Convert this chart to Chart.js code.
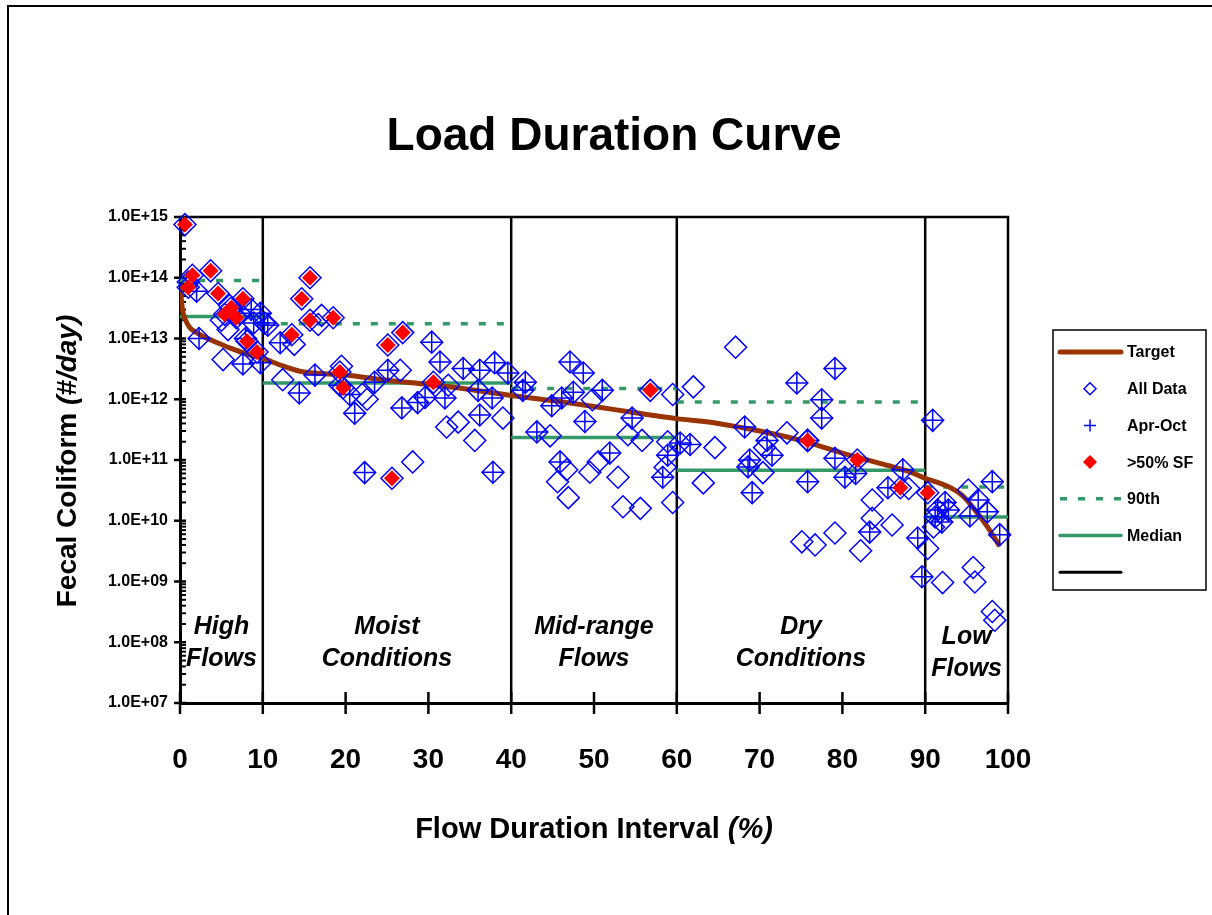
<!DOCTYPE html>
<html lang="en">
<head>
<meta charset="UTF-8">
<title>Load Duration Curve</title>
<script src="https://cdn.jsdelivr.net/npm/chart.js"></script>
<style>
  html, body {
    margin: 0;
    padding: 0;
    background: #fff;
    overflow: hidden;
  }
  .wrap {
    position: relative;
    width: 1212px;
    height: 915px;
  }
  .frame {
    position: absolute;
    left: 7px;
    top: 5px;
    right: -10px;
    bottom: -10px;
    border-left: 2px solid #000;
    border-top: 2px solid #000;
    pointer-events: none;
  }
  canvas {
    position: absolute;
    left: 0;
    top: 0;
  }
</style>
</head>
<body>
<div class="wrap">
  <canvas id="ldc" width="1212" height="915"></canvas>
  <div class="frame"></div>
</div>

<script>
// flow zones and labels
const zoneEdges = [0, 10, 40, 60, 90, 100];
const zoneNames = [['High', 'Flows'], ['Moist', 'Conditions'], ['Mid-range', 'Flows'], ['Dry', 'Conditions'], ['Low', 'Flows']];
const xTicks = [0, 10, 20, 30, 40, 50, 60, 70, 80, 90, 100];
const yDecades = [1e7, 1e8, 1e9, 1e10, 1e11, 1e12, 1e13, 1e14, 1e15];

// target load curve
const targetX = [0, 0.3, 0.6, 1.2, 2, 3, 4.5, 6, 8, 10, 12.5, 15, 20, 25, 30, 35, 40, 45, 50, 55, 60, 65, 70, 75, 80, 85, 88, 90, 92.5, 94.5, 96, 97.5, 99];
const targetY = [7.5e13, 3e13, 2.1e13, 1.5e13, 1.25e13, 1.05e13, 8.5e12, 7e12, 5.6e12, 4.7e12, 3.5e12, 2.8e12, 2.5e12, 2.05e12, 1.75e12, 1.45e12, 1.15e12, 9.5e11, 7.6e11, 6e11, 4.8e11, 4e11, 3e11, 2.1e11, 1.3e11, 8.5e10, 6.5e10, 5e10, 3.8e10, 2.6e10, 1.5e10, 8e9, 3.8e9];

// per-zone statistics
const p90 = [9e13, 1.75e13, 1.5e12, 9e11, 3.6e10];
const median = [2.3e13, 1.85e12, 2.35e11, 6.8e10, 1.15e10];

// samples [flow %, load]
const otherSamples = [
  [1.0, 8.5e13], [5.0, 2e13], [5.2, 4.5e12], [5.8, 1.4e13], [6.0, 3.5e13],
  [12.4, 2.1e12], [13.8, 8e12], [16.7, 1.7e13], [17.1, 2.4e13], [19.5, 3.5e12], [22.0, 1.2e12], [22.6, 1e12],
  [26.6, 3e12], [28.1, 9.3e10], [32.2, 3.5e11], [32.4, 1.7e12], [33.6, 4.2e11], [35.6, 2.1e11], [39.0, 4.9e11],
  [44.7, 2.5e11], [45.6, 4.4e10], [46.7, 6.9e10], [46.9, 2.4e10], [49.5, 6.3e10], [49.8, 9.8e11], [50.5, 9.3e10],
  [52.9, 5.2e10], [53.5, 1.7e10], [54.1, 2.6e11], [55.6, 1.6e10], [55.8, 2.1e11], [58.6, 7.6e10], [58.9, 2e11],
  [59.5, 1.2e12], [59.5, 2e10],
  [62.0, 1.6e12], [63.2, 4.2e10], [64.6, 1.6e11], [67.1, 7.2e12], [70.4, 6.2e10], [70.6, 1.6e11], [73.3, 2.8e11],
  [75.1, 4.5e9], [76.7, 4e9], [79.1, 6.3e9], [82.2, 3.2e9], [83.6, 2.2e10], [83.6, 1.1e10], [86.0, 8.5e9], [88.0, 3.4e10],
  [90.3, 3.5e9], [91.0, 7.9e9], [92.1, 9.6e8], [95.2, 3.2e10], [95.8, 1.7e9], [96.0, 9.8e8], [98.1, 3.2e8], [98.4, 2.3e8]
];
const aprOctSamples = [
  [2.0, 6e13], [2.3, 1e13], [7.2, 2.6e13], [7.6, 3.8e12], [7.9, 1e13], [8.6, 3e13], [8.9, 1.8e13], [9.7, 2.6e13], [9.7, 4e12], [10.2, 1.8e13],
  [10.6, 1.65e13], [12.1, 8.5e12], [14.4, 1.27e12], [16.3, 2.5e12], [19.3, 1.7e12], [20.5, 1.2e12], [21.1, 5.9e11], [22.3, 6.2e10],
  [23.5, 1.9e12], [25.1, 3e12], [26.8, 7.2e11], [28.7, 8.8e11], [29.6, 1.07e12], [30.4, 8.7e12], [31.4, 4.1e12], [32.0, 1.05e12],
  [34.2, 3.2e12], [36.0, 1.4e12], [36.2, 3e12], [36.2, 5.5e11], [37.7, 1.05e12], [37.8, 6.3e10], [38.0, 4e12], [39.6, 2.7e12],
  [41.4, 1.4e12], [41.7, 1.9e12], [43.1, 2.9e11], [44.9, 7.8e11], [45.9, 9.3e10], [46.1, 1.05e12], [47.1, 4.1e12], [47.5, 1.3e12],
  [48.7, 2.7e12], [48.9, 4.3e11], [51.0, 1.4e12], [51.9, 1.3e11], [54.6, 4.9e11], [58.3, 5.2e10], [58.9, 1.2e11], [60.4, 1.9e11],
  [61.6, 1.8e11], [68.2, 3.5e11], [68.6, 7.7e10], [68.8, 1e11], [69.1, 2.9e10], [70.9, 2.1e11], [71.5, 1.2e11], [74.5, 1.85e12],
  [75.8, 2.1e11], [75.8, 4.4e10], [77.5, 9.8e11], [77.5, 4.9e11], [79.1, 3.2e12], [79.1, 1.07e11], [80.3, 5.2e10], [81.6, 6e10],
  [83.3, 6.5e9], [85.5, 3.5e10], [87.3, 6.9e10], [89.1, 5.2e9], [89.6, 1.2e9],
  [90.9, 4.5e11], [91.2, 1.15e10], [91.5, 1.5e10], [92.0, 9.5e9], [92.4, 2e10], [92.8, 1.5e10], [95.4, 1.2e10], [96.4, 2.2e10],
  [97.5, 1.4e10], [98.1, 4.4e10], [99.0, 5.9e9]
];
const sfSamples = [
  [0.6, 7.5e14], [1.0, 7e13], [1.5, 1.1e14], [3.7, 1.3e14], [4.6, 5.5e13], [5.4, 2.5e13], [6.2, 3.2e13], [6.8, 2.2e13],
  [7.6, 4.5e13], [8.1, 9e12], [9.3, 6e12],
  [13.5, 1.15e13], [14.7, 4.5e13], [15.7, 1e14], [15.7, 2e13], [18.5, 2.2e13], [19.3, 2.8e12], [19.7, 1.55e12],
  [25.1, 7.8e12], [25.6, 5e10], [26.9, 1.25e13], [30.6, 1.9e12],
  [56.8, 1.4e12], [75.8, 2.1e11], [81.8, 1e11], [87.0, 3.5e10], [90.3, 2.9e10]
];

const FONT = "'Liberation Sans', Arial, sans-serif";
const BLUE = '#0000ff';
const GREEN = '#339966';
const BROWN = '#993300';

const pts = arr => arr.map(p => ({ x: p[0], y: p[1] }));

function zoneSteps(vals) {
  const out = [];
  vals.forEach((v, i) => {
    out.push({ x: zoneEdges[i], y: v }, { x: zoneEdges[i + 1], y: v }, { x: zoneEdges[i + 1], y: null });
  });
  return out;
}

function boundaryLines() {
  const top = yDecades[yDecades.length - 1], bot = yDecades[0];
  const last = zoneEdges[zoneEdges.length - 1];
  const out = [{ x: zoneEdges[0], y: top }, { x: last, y: top }, { x: last, y: bot }, { x: last, y: null }];
  zoneEdges.slice(1, -1).forEach(e => out.push({ x: e, y: bot }, { x: e, y: top }, { x: e, y: null }));
  return out;
}

const legendItems = [
  { text: 'Target', kind: 'line', color: BROWN, width: 5 },
  { text: 'All Data', kind: 'diamond' },
  { text: 'Apr-Oct', kind: 'plus' },
  { text: '>50% SF', kind: 'red' },
  { text: '90th', kind: 'line', color: GREEN, width: 3.5, dash: [7, 11] },
  { text: 'Median', kind: 'line', color: GREEN, width: 3.5 },
  { text: '', kind: 'line', color: '#000', width: 3 }
];

function line(ctx, x1, y1, x2, y2) {
  ctx.beginPath();
  ctx.moveTo(x1, y1);
  ctx.lineTo(x2, y2);
  ctx.stroke();
}

const decor = {
  id: 'decor',
  beforeDatasetsDraw(chart) {
    const { ctx, scales: { x, y } } = chart;
    ctx.save();
    ctx.strokeStyle = '#000';
    ctx.lineWidth = 2.5;
    xTicks.forEach(v => {
      const px = x.getPixelForValue(v);
      line(ctx, px, y.bottom - 11, px, y.bottom + 11);
    });
    yDecades.forEach((v, i) => {
      const py = y.getPixelForValue(v);
      line(ctx, x.left - 6, py, x.left + 6, py);
      if (i < yDecades.length - 1) {
        ctx.lineWidth = 2;
        for (let m = 2; m <= 9; m++) {
          const pm = y.getPixelForValue(v * m);
          line(ctx, x.left - 1, pm, x.left + 6, pm);
        }
        ctx.lineWidth = 2.5;
      }
    });
    ctx.restore();
  },
  afterDraw(chart) {
    const { ctx, scales: { x, y } } = chart;
    ctx.save();
    ctx.fillStyle = '#000';
    ctx.textBaseline = 'middle';

    // title
    ctx.textAlign = 'center';
    ctx.font = `bold 46px ${FONT}`;
    ctx.fillText('Load Duration Curve', 614, 137);

    // x title, "(%)" in italics
    const xa = 'Flow Duration Interval ', xb = '(%)';
    ctx.font = `bold 29px ${FONT}`;
    const wa = ctx.measureText(xa).width;
    ctx.font = `italic bold 29px ${FONT}`;
    const wb = ctx.measureText(xb).width;
    let sx = 594 - (wa + wb) / 2;
    ctx.textAlign = 'left';
    ctx.font = `bold 29px ${FONT}`;
    ctx.fillText(xa, sx, 830);
    ctx.font = `italic bold 29px ${FONT}`;
    ctx.fillText(xb, sx + wa, 830);

    // y title
    ctx.save();
    ctx.translate(68, 461);
    ctx.rotate(-Math.PI / 2);
    const ya = 'Fecal Coliform ', yb = '(#/day)';
    ctx.font = `bold 28px ${FONT}`;
    const ha = ctx.measureText(ya).width;
    ctx.font = `italic bold 28px ${FONT}`;
    const hb = ctx.measureText(yb).width;
    sx = -(ha + hb) / 2;
    ctx.font = `bold 28px ${FONT}`;
    ctx.fillText(ya, sx, 0);
    ctx.font = `italic bold 28px ${FONT}`;
    ctx.fillText(yb, sx + ha, 0);
    ctx.restore();

    // zone labels
    ctx.textAlign = 'center';
    ctx.font = `italic bold 25px ${FONT}`;
    zoneNames.forEach((lines, i) => {
      const cx = x.getPixelForValue((zoneEdges[i] + zoneEdges[i + 1]) / 2);
      const shift = i === zoneNames.length - 1 ? 10 : 0;
      ctx.fillText(lines[0], cx, y.bottom - 76 + shift);
      ctx.fillText(lines[1], cx, y.bottom - 44 + shift);
    });

    // legend
    const lx = 1053, ly = 330, lw = 153, lh = 260;
    ctx.fillStyle = '#fff';
    ctx.fillRect(lx, ly, lw, lh);
    ctx.strokeStyle = '#000';
    ctx.lineWidth = 1.5;
    ctx.strokeRect(lx, ly, lw, lh);
    ctx.textAlign = 'left';
    ctx.font = `bold 16px ${FONT}`;
    legendItems.forEach((it, i) => {
      const cy = 352 + i * 36.7;
      ctx.save();
      if (it.kind === 'line') {
        ctx.strokeStyle = it.color;
        ctx.lineWidth = it.width;
        ctx.lineCap = it.dash ? 'butt' : 'round';
        ctx.setLineDash(it.dash || []);
        line(ctx, 1060, cy, 1121, cy);
      } else if (it.kind === 'diamond') {
        ctx.strokeStyle = BLUE;
        ctx.fillStyle = 'rgba(0,0,0,0)';
        Chart.helpers.drawPoint(ctx, { pointStyle: 'rectRot', radius: 6, borderWidth: 1.5, rotation: 0 }, 1090, cy);
      } else if (it.kind === 'plus') {
        ctx.strokeStyle = BLUE;
        Chart.helpers.drawPoint(ctx, { pointStyle: 'cross', radius: 6, borderWidth: 1.5, rotation: 0 }, 1090, cy);
      } else {
        ctx.fillStyle = '#ff0000';
        ctx.strokeStyle = '#ff0000';
        Chart.helpers.drawPoint(ctx, { pointStyle: 'rectRot', radius: 7, borderWidth: 0, rotation: 0 }, 1090, cy);
      }
      ctx.restore();
      ctx.fillStyle = '#000';
      ctx.fillText(it.text, 1127, cy + 1);
    });
    ctx.restore();
  }
};

new Chart(document.getElementById('ldc'), {
  type: 'scatter',
  data: {
    datasets: [
      {
        label: 'Target',
        data: targetX.map((v, i) => ({ x: v, y: targetY[i] })),
        showLine: true, pointRadius: 0, borderColor: BROWN, borderWidth: 5, tension: 0.3,
        order: 4
      },
      {
        label: 'All Data',
        data: pts(otherSamples.concat(aprOctSamples, sfSamples)),
        pointStyle: 'rectRot', pointRadius: 11, borderColor: BLUE, backgroundColor: 'rgba(0,0,0,0)', borderWidth: 1.5,
        clip: false, order: 2
      },
      {
        label: 'Apr-Oct',
        data: pts(aprOctSamples),
        pointStyle: 'cross', pointRadius: 11, borderColor: BLUE, borderWidth: 1.5,
        clip: false, order: 1
      },
      {
        label: '>50% SF',
        data: pts(sfSamples),
        pointStyle: 'rectRot', pointRadius: 8, borderColor: '#ff0000', backgroundColor: '#ff0000', borderWidth: 0,
        clip: false, order: 0
      },
      {
        label: '90th',
        data: zoneSteps(p90),
        showLine: true, spanGaps: false, pointRadius: 0, borderColor: GREEN, borderWidth: 3.5, borderDash: [7, 11],
        order: 5
      },
      {
        label: 'Median',
        data: zoneSteps(median),
        showLine: true, spanGaps: false, pointRadius: 0, borderColor: GREEN, borderWidth: 3.5,
        order: 6
      },
      {
        label: '',
        data: boundaryLines(),
        showLine: true, spanGaps: false, pointRadius: 0, borderColor: '#000', borderWidth: 2.5,
        clip: false, order: 7
      }
    ]
  },
  options: {
    responsive: false,
    animation: false,
    events: [],
    layout: { padding: { top: 217, right: 204, bottom: 0, left: 0 } },
    plugins: {
      legend: { display: false },
      tooltip: { enabled: false },
      title: { display: false }
    },
    scales: {
      x: {
        type: 'linear',
        min: 0,
        max: 100,
        afterFit(s) { s.height = 212; },
        afterBuildTicks(s) { s.ticks = xTicks.map(v => ({ value: v })); },
        grid: { display: true, drawOnChartArea: false, drawTicks: false },
        border: { display: true, color: '#000', width: 3 },
        ticks: {
          color: '#000',
          padding: 40,
          maxRotation: 0,
          autoSkip: false,
          font: { family: FONT, size: 28, weight: 'bold' }
        }
      },
      y: {
        type: 'logarithmic',
        min: 1e7,
        max: 1e15,
        afterFit(s) { s.width = 180; },
        afterBuildTicks(s) { s.ticks = yDecades.map(v => ({ value: v })); },
        grid: { display: true, drawOnChartArea: false, drawTicks: false },
        border: { display: true, color: '#000', width: 3 },
        ticks: {
          color: '#000',
          padding: 12,
          font: { family: FONT, size: 16, weight: 'bold' },
          callback: v => '1.0E+' + String(Math.round(Math.log10(v))).padStart(2, '0')
        }
      }
    }
  },
  plugins: [decor]
});
</script>
</body>
</html>
